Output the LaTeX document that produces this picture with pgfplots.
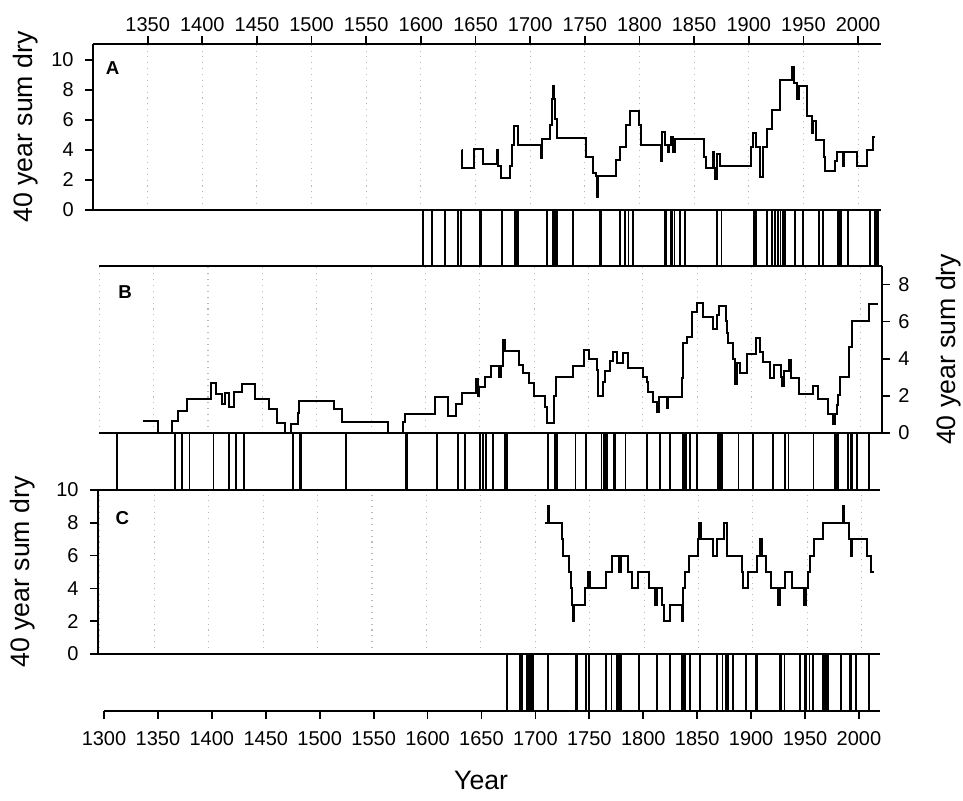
\documentclass[border=0pt]{standalone}
\usepackage{fontspec}
\setmainfont{Liberation Sans}
\usepackage{pgfplots}
\pgfplotsset{compat=1.18}

\pgfplotsset{
  dry/.style={
    scale only axis, anchor=south west,
    axis line style={-, line width=1.3pt},
    tick align=outside, major tick length=6pt,
    every tick/.style={black, line width=1.3pt},
    tick label style={font=\fontsize{15}{17}\selectfont},
    /pgf/number format/assume math mode=true,
    /pgf/number format/1000 sep={},
    label style={font=\fontsize{20}{23}\selectfont},
    grid style={gray!55, line width=0.8pt, dash pattern=on 0.8pt off 3.6pt},
  },
  gridonly/.style={xtick={1300,1350,...,2000}, xticklabels={}, xtick style={draw=none}, xmajorgrids},
  bararea/.style={axis x line*=top, axis y line=none, xtick=\empty, ytick=\empty, ymin=0, ymax=1},
  steps/.style={const plot, black, line width=1.5pt},
  bars/.style={ycomb, black, line width=1.4pt},
}
\tikzset{letter/.style={font=\bfseries\fontsize{14}{17}\selectfont}}

\begin{document}
\begin{tikzpicture}
\path[use as bounding box] (0,0) rectangle (722.25pt,-600pt);

% ---- panel A ----
\begin{axis}[dry, at={(69.75pt,-157.5pt)}, width=591pt, height=124.5pt,
  xmin=1300, xmax=2021, ymin=0, ymax=11.07,
  axis x line*=top, axis y line*=left,
  xtick={1350,1400,...,2000}, ytick={0,2,...,10}, xmajorgrids,
  yticklabel style={xshift=-5pt},
  ylabel={40 year sum dry},
  ylabel style={at={(axis description cs:-0.085,0.5)}, anchor=center}]
\addplot[steps] coordinates {
(1637.5,4.0) (1638,2.82) (1649,4.09) (1657,3.07) (1669.5,4.0) (1670.5,2.93)
(1673.5,2.11) (1681.8,2.93) (1683.3,4.33) (1684.8,5.6) (1689.1,4.36) (1709.5,3.44)
(1711,4.71) (1718,5.67) (1719.6,7.38) (1720.5,8.29) (1721.7,7.38) (1722.7,6.07)
(1724.2,4.78) (1751,3.56) (1757.7,2.49) (1759.9,2.27) (1760.8,0.89) (1761.7,2.27)
(1778.5,3.33) (1782.2,4.18) (1787.6,5.67) (1791.3,6.62) (1799.2,5.67) (1801.7,4.31)
(1819.4,3.29) (1820.3,4.31) (1820.9,5.18) (1823.3,4.31) (1826.4,3.87) (1827.3,4.31)
(1828.5,4.84) (1830.4,3.87) (1832.5,4.71) (1859,3.56) (1860.9,2.82) (1867,3.9)
(1867.8,2.82) (1869.1,2.04) (1870.6,3.76) (1873.7,2.93) (1901.8,4.18) (1903.6,5.16)
(1906.6,4.18) (1910.3,2.18) (1913.3,4.18) (1916.4,5.38) (1921,6.67) (1928.6,8.67)
(1939.3,9.56) (1941.7,8.44) (1943.9,7.38) (1946.3,8.29) (1953,6.27) (1957.6,5.11)
(1959.1,5.96) (1961.3,4.67) (1968.9,3.56) (1970.1,2.62) (1979,3.3) (1980.5,3.87)
(1986.6,2.96) (1987.5,3.87) (1999.4,2.96) (2007.9,4.0) (2014,4.84) (2015.6,4.84)
};
\node[letter] at (rel axis cs:0.025,0.855) {A};
\end{axis}

\begin{axis}[dry, bararea, at={(69.75pt,-199.5pt)}, width=591pt, height=42pt,
  xmin=1300, xmax=2021]
\addplot[bars] coordinates {
(1602,1) (1610,1) (1622,1) (1634,1) (1637,1) (1654,1) (1655,1) (1674,1)
(1686,1) (1687,1) (1688,1) (1689,1) (1715,1) (1721,1) (1722,1) (1724,1) (1725,1)
(1739,1) (1764,1) (1765,1) (1782,1) (1787,1) (1790,1) (1794,1) (1823,1) (1824,1)
(1829,1) (1830,1) (1832,1) (1837,1) (1842,1) (1871,1) (1875,1) (1905,1) (1906,1)
(1907,1) (1917,1) (1921,1) (1924,1) (1927,1) (1929,1) (1931,1) (1933,1) (1942,1)
(1950,1) (1964,1) (1968,1) (1982,1) (1983,1) (1984,1) (1991,1) (2011,1) (2015,1)
(2016,1) (2017,1) (2018,1)
};
\end{axis}

% ---- panel B ----
\begin{axis}[dry, gridonly, at={(74.475pt,-324.525pt)}, width=586.8pt, height=125pt,
  xmin=1300, xmax=2019.7, ymin=0, ymax=9,
  axis x line*=top, axis y line*=right,
  ytick={0,2,...,8}, yticklabel style={xshift=3pt},
  ylabel={40 year sum dry},
  ylabel style={at={(axis description cs:1.086,0.5)}, anchor=center}]
\addplot[steps] coordinates {
(1339.9,0.65) (1353.7,0) (1367.2,0.61) (1372.7,1.19) (1380.4,1.80) (1402.8,2.66)
(1407,2.09) (1413.2,1.53) (1415.6,2.12) (1419.6,1.40) (1423.9,2.18) (1431,2.63)
(1443.2,1.80) (1456.1,1.26) (1463.2,0.51) (1470.8,0) (1476,0.47) (1483.1,1.08)
(1484,1.73) (1515.9,1.30) (1523,0.58) (1565.3,0) (1579.7,0.56) (1581.2,1.01)
(1608.8,1.94) (1620.5,0.92) (1628.1,1.55) (1633.9,2.16) (1646.2,2.88) (1648.7,2.0)
(1649.5,2.45) (1654.8,2.99) (1660,3.62) (1668,3.02) (1669.5,3.60) (1671.7,5.0)
(1673.2,4.43) (1686.4,3.65) (1690.1,3.20) (1695.3,2.66) (1700.2,2.0) (1710,1.40)
(1712,0.51) (1718.3,2.0) (1720.1,2.99) (1736,3.60) (1746.2,4.46) (1750.5,3.96)
(1757.5,3.38) (1759.1,1.98) (1763,2.72) (1765.2,3.33) (1769.8,3.87) (1772.8,4.37)
(1775.9,3.74) (1782,4.32) (1786.6,3.51) (1799.8,2.99) (1803.5,2.75) (1805,2.18)
(1809.6,1.67) (1812.7,1.13) (1815.1,1.91) (1821.9,1.32) (1823.4,1.94) (1835.7,2.93)
(1837.2,4.86) (1840.3,5.18) (1845.5,6.53) (1850.1,6.98) (1855,6.23) (1864.2,5.60)
(1867.9,6.35) (1870.3,6.86) (1876.2,6.03) (1877.7,5.36) (1878.6,4.82) (1883.2,3.96)
(1884.7,2.63) (1886.3,3.74) (1889.3,3.24) (1895.5,4.23) (1904.1,5.09) (1907.7,4.34)
(1910.8,3.82) (1916.9,2.93) (1920.9,3.65) (1927.1,3.02) (1928.3,2.52) (1930.1,3.35)
(1934.4,3.92) (1936,2.93) (1943.9,2.09) (1956.8,2.52) (1960.8,1.82) (1970,1.03)
(1974.6,0.45) (1976.7,1.01) (1978.3,1.49) (1979.8,2.03) (1981.3,2.99) (1990,4.64)
(1992.1,6.03) (2008,6.96) (2016.6,6.96)
};
\node[letter] at (rel axis cs:0.033,0.844) {B};
\end{axis}

\begin{axis}[dry, bararea, at={(74.475pt,-367.125pt)}, width=586.8pt, height=42.6pt,
  xmin=1300, xmax=2019.7]
\addplot[bars] coordinates {
(1316,1) (1370,1) (1376,1) (1383,1) (1405,1) (1419,1) (1426,1) (1433,1) (1478,1)
(1485,1) (1486,1) (1527,1) (1582,1) (1583,1) (1611,1) (1630,1) (1636,1) (1650,1)
(1653,1) (1656,1) (1662,1) (1673,1) (1674,1) (1675,1) (1713,1) (1719,1) (1720,1)
(1721,1) (1738,1) (1748,1) (1762,1) (1764,1) (1765,1) (1767,1) (1773,1) (1774,1)
(1784,1) (1804,1) (1816,1) (1825,1) (1837,1) (1838,1) (1839,1) (1840,1) (1843,1)
(1850,1) (1869,1) (1871,1) (1873,1) (1888,1) (1901,1) (1920,1) (1931,1) (1934,1)
(1957,1) (1977,1) (1978,1) (1979,1) (1980,1) (1989,1) (1991,1) (1992,1) (1997,1)
(2008,1)
};
\end{axis}

% ---- panel C ----
\begin{axis}[dry, gridonly, at={(73.5pt,-490.5pt)}, width=586.5pt, height=123pt,
  xmin=1298.2, xmax=2016.8, ymin=0, ymax=10,
  axis x line*=top, axis y line*=left,
  ytick={0,2,...,10}, yticklabel style={xshift=-5pt},
  ylabel={40 year sum dry},
  ylabel style={at={(axis description cs:-0.096,0.5)}, anchor=center}]
\addplot[steps] coordinates {
(1708.9,8) (1711.4,9) (1712.9,8) (1724.3,7) (1725.8,6) (1731,5) (1732.5,4)
(1733.4,3) (1734.4,2) (1735.9,3) (1745.7,4) (1748.8,5) (1750.3,4) (1765,5)
(1770.2,6) (1777.2,5) (1778.5,6) (1785.5,5) (1789.2,4) (1794.7,5) (1804.8,4)
(1810,3) (1811.5,4) (1816.2,3) (1818.6,2) (1823.8,3) (1834.5,2) (1836.1,4)
(1837.6,5) (1841.6,6) (1849.9,7) (1850.5,8) (1852,7) (1863.6,6) (1867.3,7)
(1873,8) (1875.9,7) (1876.5,6) (1889.7,5) (1890.6,4) (1895.8,5) (1903.5,6)
(1906.5,7) (1908.1,6) (1912,5) (1916.6,4) (1922.8,3) (1924.9,4) (1929.5,5)
(1935.6,4) (1947,3) (1948.8,4) (1950.3,5) (1952.5,6) (1956.5,7) (1964.7,8)
(1982.5,9) (1984,8) (1988.3,7) (1989.8,6) (1991.4,7) (2005.2,6) (2008.2,5)
(2011.6,5)
};
\node[letter] at (rel axis cs:0.031,0.829) {C};
\end{axis}

\begin{axis}[dry, bararea, at={(73.5pt,-533.25pt)}, width=586.5pt, height=42.75pt,
  xmin=1298.2, xmax=2016.8]
\addplot[bars] coordinates {
(1674,1) (1686,1) (1688,1) (1692,1) (1693,1) (1694,1) (1695,1) (1696,1) (1698,1)
(1712,1) (1737,1) (1738,1) (1747,1) (1749,1) (1765,1) (1770,1) (1775,1) (1777,1)
(1779,1) (1795,1) (1812,1) (1824,1) (1835,1) (1836,1) (1837,1) (1838,1) (1842,1)
(1851,1) (1867,1) (1872,1) (1875,1) (1877,1) (1882,1) (1894,1) (1903,1) (1904,1)
(1925,1) (1926,1) (1929,1) (1943,1) (1948,1) (1949,1) (1952,1) (1955,1) (1964,1)
(1965,1) (1966,1) (1967,1) (1968,1) (1969,1) (1981,1) (1989,1) (1990,1) (1995,1)
(2007,1)
};
\end{axis}

% ---- shared bottom axis ----
\begin{axis}[dry, at={(78pt,-533.25pt)}, width=582pt, height=10pt,
  xmin=1300, xmax=2019.5, ymin=0, ymax=1,
  axis x line*=bottom, axis y line=none, ytick=\empty,
  xtick={1300,1350,...,2000}, xticklabel style={yshift=-6pt},
  xlabel={Year},
  xlabel style={at={(axis description cs:0.486,0)}, anchor=center, yshift=-51.75pt}]
\addplot[draw=none] coordinates {(1300,0)};
\end{axis}
\end{tikzpicture}
\end{document}
